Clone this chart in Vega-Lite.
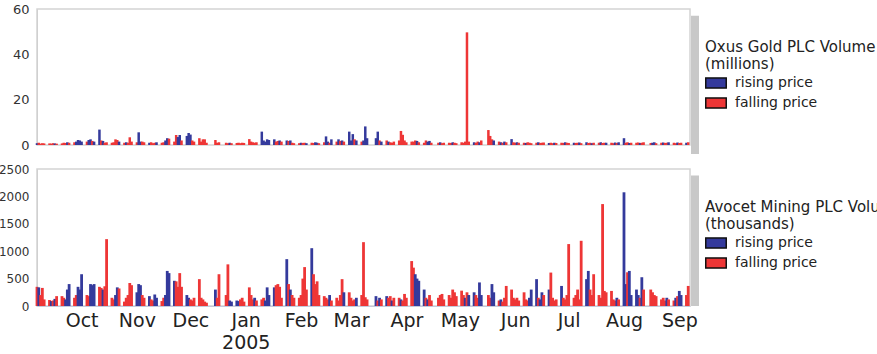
{
"$schema": "https://vega.github.io/schema/vega-lite/v6.json",
"autosize": {"type": "pad"},
"padding": {"left": -3, "top": 2, "right": 0, "bottom": 0},
"background": "white",
"config": {
  "font": "DejaVu Sans",
  "view": {"stroke": "#d4d4d4", "strokeWidth": 1.5},
  "legend": {"orient": "none", "symbolType": "M-1,-0.5H1V0.5H-1Z", "symbolSize": 420, "symbolStrokeColor": "#111", "symbolStrokeWidth": 1.5, "symbolOpacity": 1, "titleFontSize": 15, "titleFontWeight": "normal", "titleColor": "#222", "titleLineHeight": 17, "labelFontSize": 14, "labelColor": "#222", "titlePadding": 0, "rowPadding": 0, "labelOffset": 8, "padding": 0, "titleLimit": 400, "labelLimit": 300}
},
"data": {"values": [
{"d":"2004-09-20","o":0.8,"p":"r","a":350,"q":"f"},
{"d":"2004-09-21","o":1.0,"p":"f","a":340,"q":"r"},
{"d":"2004-09-22","o":0.6,"p":"f","a":200,"q":"f"},
{"d":"2004-09-23","o":0.8,"p":"f","a":330,"q":"f"},
{"d":"2004-09-24","o":0.7,"p":"f","a":120,"q":"f"},
{"d":"2004-09-27","o":0.7,"p":"f","a":110,"q":"f"},
{"d":"2004-09-28","o":0.6,"p":"f","a":90,"q":"r"},
{"d":"2004-09-29","o":0.8,"p":"f","a":100,"q":"f"},
{"d":"2004-09-30","o":0.7,"p":"r","a":130,"q":"r"},
{"d":"2004-10-01","o":0.6,"p":"f","a":180,"q":"f"},
{"d":"2004-10-04","o":0.7,"p":"f","a":180,"q":"f"},
{"d":"2004-10-05","o":1.0,"p":"f","a":150,"q":"f"},
{"d":"2004-10-06","o":0.9,"p":"f","a":120,"q":"r"},
{"d":"2004-10-07","o":1.2,"p":"r","a":300,"q":"r"},
{"d":"2004-10-08","o":1.0,"p":"f","a":400,"q":"r"},
{"d":"2004-10-11","o":1.2,"p":"f","a":150,"q":"f"},
{"d":"2004-10-12","o":1.5,"p":"r","a":200,"q":"f"},
{"d":"2004-10-13","o":2.2,"p":"r","a":350,"q":"r"},
{"d":"2004-10-14","o":2.0,"p":"r","a":300,"q":"r"},
{"d":"2004-10-15","o":1.5,"p":"r","a":580,"q":"r"},
{"d":"2004-10-18","o":1.5,"p":"f","a":200,"q":"f"},
{"d":"2004-10-19","o":2.2,"p":"r","a":180,"q":"f"},
{"d":"2004-10-20","o":2.5,"p":"r","a":400,"q":"r"},
{"d":"2004-10-21","o":1.8,"p":"f","a":380,"q":"r"},
{"d":"2004-10-22","o":1.5,"p":"r","a":400,"q":"r"},
{"d":"2004-10-25","o":6.8,"p":"r","a":350,"q":"f"},
{"d":"2004-10-26","o":2.0,"p":"f","a":330,"q":"f"},
{"d":"2004-10-27","o":1.8,"p":"r","a":300,"q":"r"},
{"d":"2004-10-28","o":1.0,"p":"f","a":360,"q":"f"},
{"d":"2004-10-29","o":1.2,"p":"f","a":1220,"q":"f"},
{"d":"2004-11-01","o":1.0,"p":"f","a":150,"q":"f"},
{"d":"2004-11-02","o":1.2,"p":"f","a":120,"q":"f"},
{"d":"2004-11-03","o":2.5,"p":"f","a":200,"q":"r"},
{"d":"2004-11-04","o":2.2,"p":"f","a":340,"q":"r"},
{"d":"2004-11-05","o":1.5,"p":"r","a":320,"q":"f"},
{"d":"2004-11-08","o":1.0,"p":"f","a":80,"q":"f"},
{"d":"2004-11-09","o":1.2,"p":"r","a":150,"q":"f"},
{"d":"2004-11-10","o":1.0,"p":"f","a":200,"q":"f"},
{"d":"2004-11-11","o":3.4,"p":"f","a":420,"q":"f"},
{"d":"2004-11-12","o":1.5,"p":"f","a":380,"q":"f"},
{"d":"2004-11-15","o":1.2,"p":"f","a":250,"q":"r"},
{"d":"2004-11-16","o":5.6,"p":"r","a":400,"q":"r"},
{"d":"2004-11-17","o":1.5,"p":"r","a":380,"q":"r"},
{"d":"2004-11-18","o":1.5,"p":"f","a":200,"q":"f"},
{"d":"2004-11-19","o":1.2,"p":"f","a":150,"q":"f"},
{"d":"2004-11-22","o":1.0,"p":"r","a":180,"q":"r"},
{"d":"2004-11-23","o":1.2,"p":"f","a":120,"q":"f"},
{"d":"2004-11-24","o":0.8,"p":"f","a":100,"q":"f"},
{"d":"2004-11-25","o":1.0,"p":"f","a":210,"q":"r"},
{"d":"2004-11-26","o":1.2,"p":"r","a":150,"q":"r"},
{"d":"2004-11-29","o":1.0,"p":"f","a":90,"q":"f"},
{"d":"2004-11-30","o":1.2,"p":"f","a":150,"q":"f"},
{"d":"2004-12-01","o":2.0,"p":"r","a":200,"q":"r"},
{"d":"2004-12-02","o":3.0,"p":"r","a":640,"q":"r"},
{"d":"2004-12-03","o":2.8,"p":"f","a":600,"q":"r"},
{"d":"2004-12-06","o":1.5,"p":"f","a":460,"q":"r"},
{"d":"2004-12-07","o":4.4,"p":"f","a":450,"q":"f"},
{"d":"2004-12-08","o":3.5,"p":"r","a":350,"q":"f"},
{"d":"2004-12-09","o":4.4,"p":"r","a":600,"q":"f"},
{"d":"2004-12-10","o":2.0,"p":"f","a":350,"q":"f"},
{"d":"2004-12-13","o":4.0,"p":"r","a":200,"q":"r"},
{"d":"2004-12-14","o":5.3,"p":"r","a":150,"q":"r"},
{"d":"2004-12-15","o":4.6,"p":"r","a":120,"q":"f"},
{"d":"2004-12-16","o":2.0,"p":"f","a":100,"q":"f"},
{"d":"2004-12-17","o":1.5,"p":"f","a":150,"q":"f"},
{"d":"2004-12-20","o":3.0,"p":"f","a":490,"q":"f"},
{"d":"2004-12-21","o":1.5,"p":"f","a":150,"q":"f"},
{"d":"2004-12-22","o":2.5,"p":"f","a":120,"q":"f"},
{"d":"2004-12-23","o":2.5,"p":"f","a":80,"q":"f"},
{"d":"2004-12-24","o":1.0,"p":"f","a":60,"q":"f"},
{"d":"2004-12-29","o":2.2,"p":"f","a":300,"q":"r"},
{"d":"2004-12-30","o":1.0,"p":"f","a":150,"q":"f"},
{"d":"2004-12-31","o":1.2,"p":"f","a":580,"q":"f"},
{"d":"2005-01-04","o":1.0,"p":"f","a":200,"q":"f"},
{"d":"2005-01-05","o":0.8,"p":"f","a":760,"q":"f"},
{"d":"2005-01-06","o":1.0,"p":"r","a":100,"q":"r"},
{"d":"2005-01-07","o":0.8,"p":"f","a":80,"q":"r"},
{"d":"2005-01-10","o":0.9,"p":"f","a":100,"q":"r"},
{"d":"2005-01-11","o":1.0,"p":"f","a":90,"q":"r"},
{"d":"2005-01-12","o":0.8,"p":"f","a":120,"q":"f"},
{"d":"2005-01-13","o":1.0,"p":"f","a":150,"q":"f"},
{"d":"2005-01-14","o":0.9,"p":"f","a":80,"q":"f"},
{"d":"2005-01-17","o":2.6,"p":"f","a":340,"q":"f"},
{"d":"2005-01-18","o":1.5,"p":"f","a":200,"q":"f"},
{"d":"2005-01-19","o":1.2,"p":"f","a":120,"q":"f"},
{"d":"2005-01-20","o":1.0,"p":"f","a":150,"q":"r"},
{"d":"2005-01-21","o":1.2,"p":"f","a":100,"q":"f"},
{"d":"2005-01-24","o":5.9,"p":"r","a":120,"q":"f"},
{"d":"2005-01-25","o":2.0,"p":"r","a":150,"q":"f"},
{"d":"2005-01-26","o":1.5,"p":"r","a":100,"q":"r"},
{"d":"2005-01-27","o":2.5,"p":"r","a":340,"q":"r"},
{"d":"2005-01-28","o":2.2,"p":"r","a":200,"q":"r"},
{"d":"2005-01-31","o":2.5,"p":"r","a":340,"q":"r"},
{"d":"2005-02-01","o":1.5,"p":"f","a":380,"q":"f"},
{"d":"2005-02-02","o":1.8,"p":"f","a":400,"q":"f"},
{"d":"2005-02-03","o":2.0,"p":"r","a":350,"q":"f"},
{"d":"2005-02-04","o":1.5,"p":"f","a":150,"q":"f"},
{"d":"2005-02-07","o":2.0,"p":"r","a":855,"q":"r"},
{"d":"2005-02-08","o":1.8,"p":"f","a":400,"q":"f"},
{"d":"2005-02-09","o":2.0,"p":"r","a":300,"q":"r"},
{"d":"2005-02-10","o":1.0,"p":"f","a":200,"q":"f"},
{"d":"2005-02-11","o":0.8,"p":"f","a":150,"q":"f"},
{"d":"2005-02-14","o":0.8,"p":"f","a":150,"q":"f"},
{"d":"2005-02-15","o":1.0,"p":"r","a":200,"q":"f"},
{"d":"2005-02-16","o":0.9,"p":"f","a":500,"q":"f"},
{"d":"2005-02-17","o":1.0,"p":"f","a":710,"q":"f"},
{"d":"2005-02-18","o":0.8,"p":"r","a":300,"q":"f"},
{"d":"2005-02-21","o":1.0,"p":"f","a":1055,"q":"r"},
{"d":"2005-02-22","o":0.9,"p":"f","a":580,"q":"f"},
{"d":"2005-02-23","o":1.2,"p":"r","a":400,"q":"f"},
{"d":"2005-02-24","o":1.0,"p":"r","a":450,"q":"f"},
{"d":"2005-02-25","o":0.8,"p":"f","a":200,"q":"f"},
{"d":"2005-02-28","o":1.2,"p":"f","a":180,"q":"f"},
{"d":"2005-03-01","o":3.8,"p":"r","a":150,"q":"f"},
{"d":"2005-03-02","o":1.5,"p":"r","a":120,"q":"f"},
{"d":"2005-03-03","o":1.0,"p":"f","a":200,"q":"r"},
{"d":"2005-03-04","o":2.5,"p":"r","a":100,"q":"f"},
{"d":"2005-03-07","o":1.5,"p":"f","a":150,"q":"f"},
{"d":"2005-03-08","o":2.5,"p":"r","a":100,"q":"f"},
{"d":"2005-03-09","o":1.8,"p":"f","a":200,"q":"f"},
{"d":"2005-03-10","o":2.0,"p":"r","a":490,"q":"f"},
{"d":"2005-03-11","o":1.5,"p":"f","a":250,"q":"r"},
{"d":"2005-03-14","o":5.9,"p":"r","a":250,"q":"f"},
{"d":"2005-03-15","o":2.0,"p":"r","a":150,"q":"f"},
{"d":"2005-03-16","o":4.8,"p":"r","a":100,"q":"f"},
{"d":"2005-03-17","o":2.5,"p":"f","a":120,"q":"f"},
{"d":"2005-03-18","o":2.0,"p":"r","a":150,"q":"r"},
{"d":"2005-03-21","o":1.5,"p":"f","a":200,"q":"f"},
{"d":"2005-03-22","o":2.0,"p":"r","a":1165,"q":"f"},
{"d":"2005-03-23","o":8.2,"p":"r","a":160,"q":"f"},
{"d":"2005-03-24","o":3.0,"p":"r","a":120,"q":"f"},
{"d":"2005-03-29","o":3.0,"p":"r","a":180,"q":"r"},
{"d":"2005-03-30","o":5.9,"p":"r","a":100,"q":"f"},
{"d":"2005-03-31","o":2.0,"p":"f","a":150,"q":"r"},
{"d":"2005-04-01","o":1.5,"p":"r","a":120,"q":"f"},
{"d":"2005-04-04","o":2.0,"p":"f","a":180,"q":"r"},
{"d":"2005-04-05","o":1.5,"p":"r","a":150,"q":"f"},
{"d":"2005-04-06","o":1.2,"p":"f","a":180,"q":"f"},
{"d":"2005-04-07","o":1.0,"p":"f","a":100,"q":"r"},
{"d":"2005-04-08","o":1.5,"p":"f","a":150,"q":"f"},
{"d":"2005-04-11","o":2.0,"p":"f","a":150,"q":"f"},
{"d":"2005-04-12","o":6.2,"p":"f","a":120,"q":"r"},
{"d":"2005-04-13","o":4.5,"p":"f","a":100,"q":"f"},
{"d":"2005-04-14","o":2.0,"p":"f","a":220,"q":"f"},
{"d":"2005-04-15","o":1.2,"p":"f","a":150,"q":"f"},
{"d":"2005-04-18","o":1.5,"p":"f","a":820,"q":"f"},
{"d":"2005-04-19","o":1.5,"p":"f","a":700,"q":"f"},
{"d":"2005-04-20","o":2.0,"p":"f","a":580,"q":"r"},
{"d":"2005-04-21","o":1.8,"p":"r","a":500,"q":"r"},
{"d":"2005-04-22","o":1.2,"p":"f","a":460,"q":"r"},
{"d":"2005-04-25","o":1.0,"p":"f","a":300,"q":"r"},
{"d":"2005-04-26","o":2.0,"p":"f","a":150,"q":"f"},
{"d":"2005-04-27","o":1.5,"p":"r","a":120,"q":"r"},
{"d":"2005-04-28","o":1.8,"p":"r","a":200,"q":"f"},
{"d":"2005-04-29","o":1.0,"p":"f","a":100,"q":"f"},
{"d":"2005-05-03","o":1.0,"p":"f","a":150,"q":"f"},
{"d":"2005-05-04","o":1.2,"p":"r","a":200,"q":"f"},
{"d":"2005-05-05","o":0.8,"p":"f","a":220,"q":"f"},
{"d":"2005-05-06","o":1.0,"p":"f","a":120,"q":"f"},
{"d":"2005-05-09","o":1.0,"p":"f","a":200,"q":"f"},
{"d":"2005-05-10","o":0.9,"p":"f","a":150,"q":"f"},
{"d":"2005-05-11","o":1.2,"p":"r","a":300,"q":"f"},
{"d":"2005-05-12","o":1.0,"p":"f","a":250,"q":"f"},
{"d":"2005-05-13","o":0.8,"p":"f","a":180,"q":"f"},
{"d":"2005-05-16","o":1.2,"p":"f","a":280,"q":"f"},
{"d":"2005-05-17","o":1.0,"p":"f","a":200,"q":"f"},
{"d":"2005-05-18","o":1.5,"p":"f","a":150,"q":"r"},
{"d":"2005-05-19","o":49.7,"p":"f","a":250,"q":"f"},
{"d":"2005-05-20","o":1.5,"p":"f","a":200,"q":"r"},
{"d":"2005-05-23","o":1.2,"p":"r","a":250,"q":"r"},
{"d":"2005-05-24","o":1.0,"p":"f","a":200,"q":"f"},
{"d":"2005-05-25","o":1.5,"p":"f","a":150,"q":"f"},
{"d":"2005-05-26","o":1.2,"p":"r","a":430,"q":"r"},
{"d":"2005-05-27","o":2.0,"p":"f","a":200,"q":"r"},
{"d":"2005-05-31","o":6.6,"p":"f","a":200,"q":"f"},
{"d":"2005-06-01","o":4.0,"p":"f","a":150,"q":"f"},
{"d":"2005-06-02","o":2.5,"p":"f","a":400,"q":"r"},
{"d":"2005-06-03","o":2.0,"p":"r","a":250,"q":"r"},
{"d":"2005-06-06","o":1.5,"p":"f","a":100,"q":"f"},
{"d":"2005-06-07","o":1.2,"p":"r","a":120,"q":"r"},
{"d":"2005-06-08","o":1.0,"p":"f","a":80,"q":"f"},
{"d":"2005-06-09","o":1.5,"p":"r","a":150,"q":"f"},
{"d":"2005-06-10","o":1.2,"p":"f","a":366,"q":"f"},
{"d":"2005-06-13","o":2.6,"p":"r","a":300,"q":"f"},
{"d":"2005-06-14","o":1.2,"p":"f","a":150,"q":"f"},
{"d":"2005-06-15","o":1.0,"p":"f","a":120,"q":"f"},
{"d":"2005-06-16","o":1.2,"p":"r","a":150,"q":"f"},
{"d":"2005-06-17","o":1.0,"p":"f","a":100,"q":"f"},
{"d":"2005-06-20","o":1.0,"p":"f","a":250,"q":"f"},
{"d":"2005-06-21","o":0.9,"p":"r","a":120,"q":"f"},
{"d":"2005-06-22","o":1.2,"p":"f","a":100,"q":"f"},
{"d":"2005-06-23","o":1.0,"p":"f","a":150,"q":"r"},
{"d":"2005-06-24","o":0.8,"p":"f","a":300,"q":"r"},
{"d":"2005-06-27","o":1.0,"p":"f","a":490,"q":"r"},
{"d":"2005-06-28","o":1.2,"p":"r","a":150,"q":"f"},
{"d":"2005-06-29","o":0.9,"p":"f","a":120,"q":"r"},
{"d":"2005-06-30","o":1.0,"p":"f","a":250,"q":"r"},
{"d":"2005-07-01","o":1.1,"p":"f","a":200,"q":"f"},
{"d":"2005-07-04","o":0.9,"p":"r","a":300,"q":"r"},
{"d":"2005-07-05","o":1.0,"p":"f","a":610,"q":"f"},
{"d":"2005-07-06","o":0.8,"p":"f","a":150,"q":"f"},
{"d":"2005-07-07","o":1.0,"p":"r","a":100,"q":"f"},
{"d":"2005-07-08","o":0.9,"p":"f","a":120,"q":"f"},
{"d":"2005-07-11","o":1.0,"p":"f","a":366,"q":"r"},
{"d":"2005-07-12","o":0.9,"p":"f","a":150,"q":"f"},
{"d":"2005-07-13","o":1.2,"p":"r","a":120,"q":"f"},
{"d":"2005-07-14","o":1.0,"p":"f","a":200,"q":"f"},
{"d":"2005-07-15","o":0.9,"p":"f","a":1130,"q":"f"},
{"d":"2005-07-18","o":1.0,"p":"r","a":150,"q":"f"},
{"d":"2005-07-19","o":0.9,"p":"f","a":200,"q":"f"},
{"d":"2005-07-20","o":1.0,"p":"f","a":300,"q":"f"},
{"d":"2005-07-21","o":1.1,"p":"r","a":120,"q":"f"},
{"d":"2005-07-22","o":0.8,"p":"f","a":1190,"q":"f"},
{"d":"2005-07-25","o":1.2,"p":"r","a":490,"q":"r"},
{"d":"2005-07-26","o":0.9,"p":"f","a":640,"q":"r"},
{"d":"2005-07-27","o":1.0,"p":"f","a":300,"q":"f"},
{"d":"2005-07-28","o":0.8,"p":"r","a":200,"q":"f"},
{"d":"2005-07-29","o":1.0,"p":"f","a":580,"q":"f"},
{"d":"2005-08-01","o":1.0,"p":"f","a":200,"q":"f"},
{"d":"2005-08-02","o":1.2,"p":"r","a":150,"q":"f"},
{"d":"2005-08-03","o":0.9,"p":"f","a":1860,"q":"f"},
{"d":"2005-08-04","o":1.0,"p":"f","a":275,"q":"f"},
{"d":"2005-08-05","o":1.0,"p":"r","a":250,"q":"f"},
{"d":"2005-08-08","o":1.0,"p":"f","a":275,"q":"f"},
{"d":"2005-08-09","o":0.8,"p":"f","a":120,"q":"f"},
{"d":"2005-08-10","o":1.1,"p":"r","a":100,"q":"f"},
{"d":"2005-08-11","o":0.9,"p":"f","a":150,"q":"r"},
{"d":"2005-08-12","o":1.2,"p":"r","a":120,"q":"f"},
{"d":"2005-08-15","o":3.0,"p":"r","a":2075,"q":"r"},
{"d":"2005-08-16","o":1.0,"p":"f","a":400,"q":"r"},
{"d":"2005-08-17","o":1.2,"p":"f","a":615,"q":"f"},
{"d":"2005-08-18","o":0.9,"p":"r","a":640,"q":"r"},
{"d":"2005-08-19","o":1.0,"p":"f","a":200,"q":"r"},
{"d":"2005-08-22","o":1.0,"p":"f","a":300,"q":"r"},
{"d":"2005-08-23","o":1.1,"p":"f","a":200,"q":"r"},
{"d":"2005-08-24","o":0.9,"p":"r","a":150,"q":"f"},
{"d":"2005-08-25","o":1.0,"p":"f","a":525,"q":"r"},
{"d":"2005-08-26","o":1.2,"p":"f","a":300,"q":"f"},
{"d":"2005-08-30","o":0.9,"p":"f","a":300,"q":"f"},
{"d":"2005-08-31","o":1.0,"p":"r","a":250,"q":"f"},
{"d":"2005-09-01","o":1.2,"p":"r","a":200,"q":"f"},
{"d":"2005-09-02","o":0.8,"p":"f","a":180,"q":"f"},
{"d":"2005-09-05","o":1.0,"p":"f","a":120,"q":"f"},
{"d":"2005-09-06","o":1.1,"p":"r","a":150,"q":"f"},
{"d":"2005-09-07","o":0.9,"p":"f","a":100,"q":"f"},
{"d":"2005-09-08","o":1.0,"p":"f","a":150,"q":"r"},
{"d":"2005-09-09","o":1.2,"p":"r","a":120,"q":"f"},
{"d":"2005-09-12","o":1.0,"p":"f","a":100,"q":"f"},
{"d":"2005-09-13","o":0.8,"p":"f","a":150,"q":"r"},
{"d":"2005-09-14","o":1.1,"p":"r","a":180,"q":"f"},
{"d":"2005-09-15","o":0.9,"p":"f","a":275,"q":"r"},
{"d":"2005-09-16","o":1.0,"p":"f","a":200,"q":"r"},
{"d":"2005-09-19","o":1.0,"p":"r","a":200,"q":"f"},
{"d":"2005-09-20","o":1.2,"p":"f","a":366,"q":"f"}
]},
"spacing": 24,
"bounds": "flush",
"resolve": {"scale": {"color": "independent"}, "legend": {"color": "independent"}},
"vconcat": [
  {
    "width": 653, "height": 136,
    "layer": [
      {
        "mark": {"type": "bar", "size": 2.5},
        "encoding": {
          "x": {"field": "d", "type": "temporal", "scale": {"type": "utc", "nice": false, "padding": 0, "domain": [{"year": 2004, "month": 9, "date": 20, "utc": true}, {"year": 2005, "month": 9, "date": 21, "utc": true}]}, "axis": null},
          "y": {"field": "o", "type": "quantitative", "scale": {"domain": [0, 60]}, "axis": {"values": [0, 20, 40, 60], "ticks": false, "labelPadding": 8, "domainColor": "#d0d0d0", "labelFontSize": 13, "labelColor": "#333", "grid": false, "title": null, "labelOverlap": false}},
          "color": {"field": "p", "type": "nominal", "scale": {"domain": ["r", "f"], "range": ["#343a9c", "#ee3636"]},
            "legend": {"title": ["Oxus Gold PLC Volume", "(millions)"], "legendX": 668, "legendY": 31, "labelExpr": "datum.label == 'r' ? 'rising price' : 'falling price'"}}
        }
      },
      {
        "data": {"values": [{}]},
        "mark": {"type": "rule", "color": "#c8c8c8", "strokeWidth": 8, "xOffset": 5},
        "encoding": {
          "x": {"datum": {"year": 2005, "month": 9, "date": 21, "utc": true}, "type": "temporal"},
          "y": {"datum": 57},
          "y2": {"datum": -4}
        }
      }
    ]
  },
  {
    "width": 653, "height": 137,
    "layer": [
      {
        "mark": {"type": "bar", "size": 2.8},
        "encoding": {
          "x": {"field": "d", "type": "temporal", "scale": {"type": "utc", "nice": false, "padding": 0, "domain": [{"year": 2004, "month": 9, "date": 20, "utc": true}, {"year": 2005, "month": 9, "date": 21, "utc": true}]},
            "axis": {"title": null, "grid": false, "ticks": false, "domainColor": "#c4cadb", "labelFontSize": 19, "labelColor": "#222", "labelPadding": 5, "labelFlush": false, "labelOverlap": false, "labelBound": false, "labelLineHeight": 22,
              "values": [{"year": 2004, "month": 10, "date": 15, "utc": true}, {"year": 2004, "month": 11, "date": 15, "utc": true}, {"year": 2004, "month": 12, "date": 15, "utc": true}, {"year": 2005, "month": 1, "date": 15, "utc": true}, {"year": 2005, "month": 2, "date": 15, "utc": true}, {"year": 2005, "month": 3, "date": 15, "utc": true}, {"year": 2005, "month": 4, "date": 15, "utc": true}, {"year": 2005, "month": 5, "date": 15, "utc": true}, {"year": 2005, "month": 6, "date": 15, "utc": true}, {"year": 2005, "month": 7, "date": 15, "utc": true}, {"year": 2005, "month": 8, "date": 15, "utc": true}, {"year": 2005, "month": 9, "date": 15, "utc": true}],
              "labelExpr": "utcmonth(datum.value) == 0 ? [utcFormat(datum.value, '%b'), utcFormat(datum.value, '%Y')] : utcFormat(datum.value, '%b')"}},
          "y": {"field": "a", "type": "quantitative", "scale": {"domain": [0, 2500], "nice": false}, "axis": {"tickCount": 5, "format": "d", "ticks": false, "labelPadding": 8, "domainColor": "#d0d0d0", "labelFontSize": 12, "labelColor": "#333", "grid": false, "title": null, "labelOverlap": false, "labelSeparation": 0}},
          "color": {"field": "q", "type": "nominal", "scale": {"domain": ["r", "f"], "range": ["#343a9c", "#ee3636"]},
            "legend": {"title": ["Avocet Mining PLC Volume", "(thousands)"], "legendX": 668, "legendY": 31, "labelExpr": "datum.label == 'r' ? 'rising price' : 'falling price'"}}
        }
      },
      {
        "data": {"values": [{}]},
        "mark": {"type": "rule", "color": "#c8c8c8", "strokeWidth": 8, "xOffset": 5},
        "encoding": {
          "x": {"datum": {"year": 2005, "month": 9, "date": 21, "utc": true}, "type": "temporal"},
          "y": {"datum": 2380},
          "y2": {"datum": 0}
        }
      }
    ]
  }
]
}
